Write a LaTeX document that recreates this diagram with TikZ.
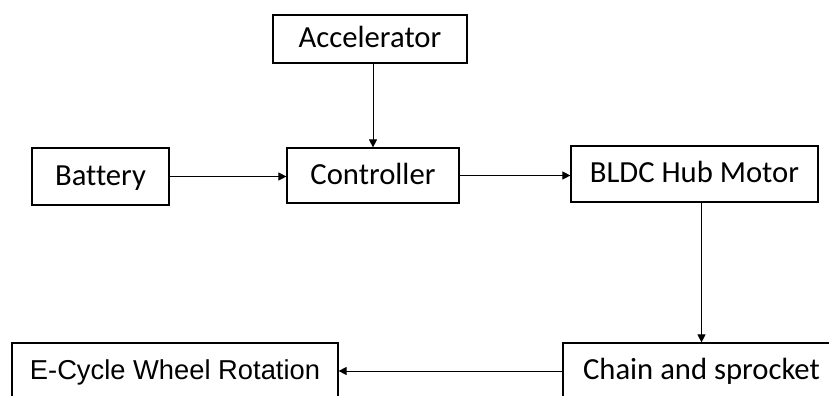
\documentclass[tikz,border=0pt]{standalone}
\usepackage{fontspec}
\usepackage{tikz}
\usetikzlibrary{arrows.meta}
\setmainfont{Carlito}[Ligatures=NoCommon]
\newfontfamily\arialfont{Liberation Sans}

\begin{document}
\begin{tikzpicture}[x=0.75pt,y=-0.75pt]
        \tikzstyle{block}=[draw,line width=0.9pt,inner sep=0pt,text height=13pt,text depth=0pt,font=\fontsize{23}{27}\selectfont]
        \tikzstyle{flow}=[line width=0.75pt,-{Triangle[length=6pt,width=6pt]}]
        \useasboundingbox (0,0) rectangle (829,396);
        \clip (0,0) rectangle (829,396);

        \node[block,minimum width=145.5pt,minimum height=36pt] (acc) at (370,39) {Accelerator};
        \node[block,minimum width=102.75pt,minimum height=42.75pt] (bat) at (100.5,176.5) {Battery};
        \node[block,minimum width=129pt,minimum height=41.25pt] (ctrl) at (373,175.5) {Controller};
        \node[block,minimum width=185.25pt,minimum height=42pt] (bldc) at (694.5,174) {BLDC Hub Motor};
        \node[block,minimum width=207.75pt,minimum height=42pt] (chain) at (701.5,371) {Chain and sprocket};
        \node[block,minimum width=244.5pt,minimum height=42pt,font=\arialfont\fontsize{20.5}{24}\selectfont] (wheel) at (175,371) {E-Cycle Wheel Rotation};

        \draw[flow] (ctrl.north |- acc.south) -- (ctrl.north);
        \draw[flow] (bat.east) -- (bat.east -| ctrl.west);
        \draw[flow] (ctrl.east) -- (ctrl.east -| bldc.west);
        \draw[flow] (bldc.south -| chain.north) -- (chain.north);
        \draw[flow] (chain.west) -- (wheel.east);
    \end{tikzpicture}
\end{document}
